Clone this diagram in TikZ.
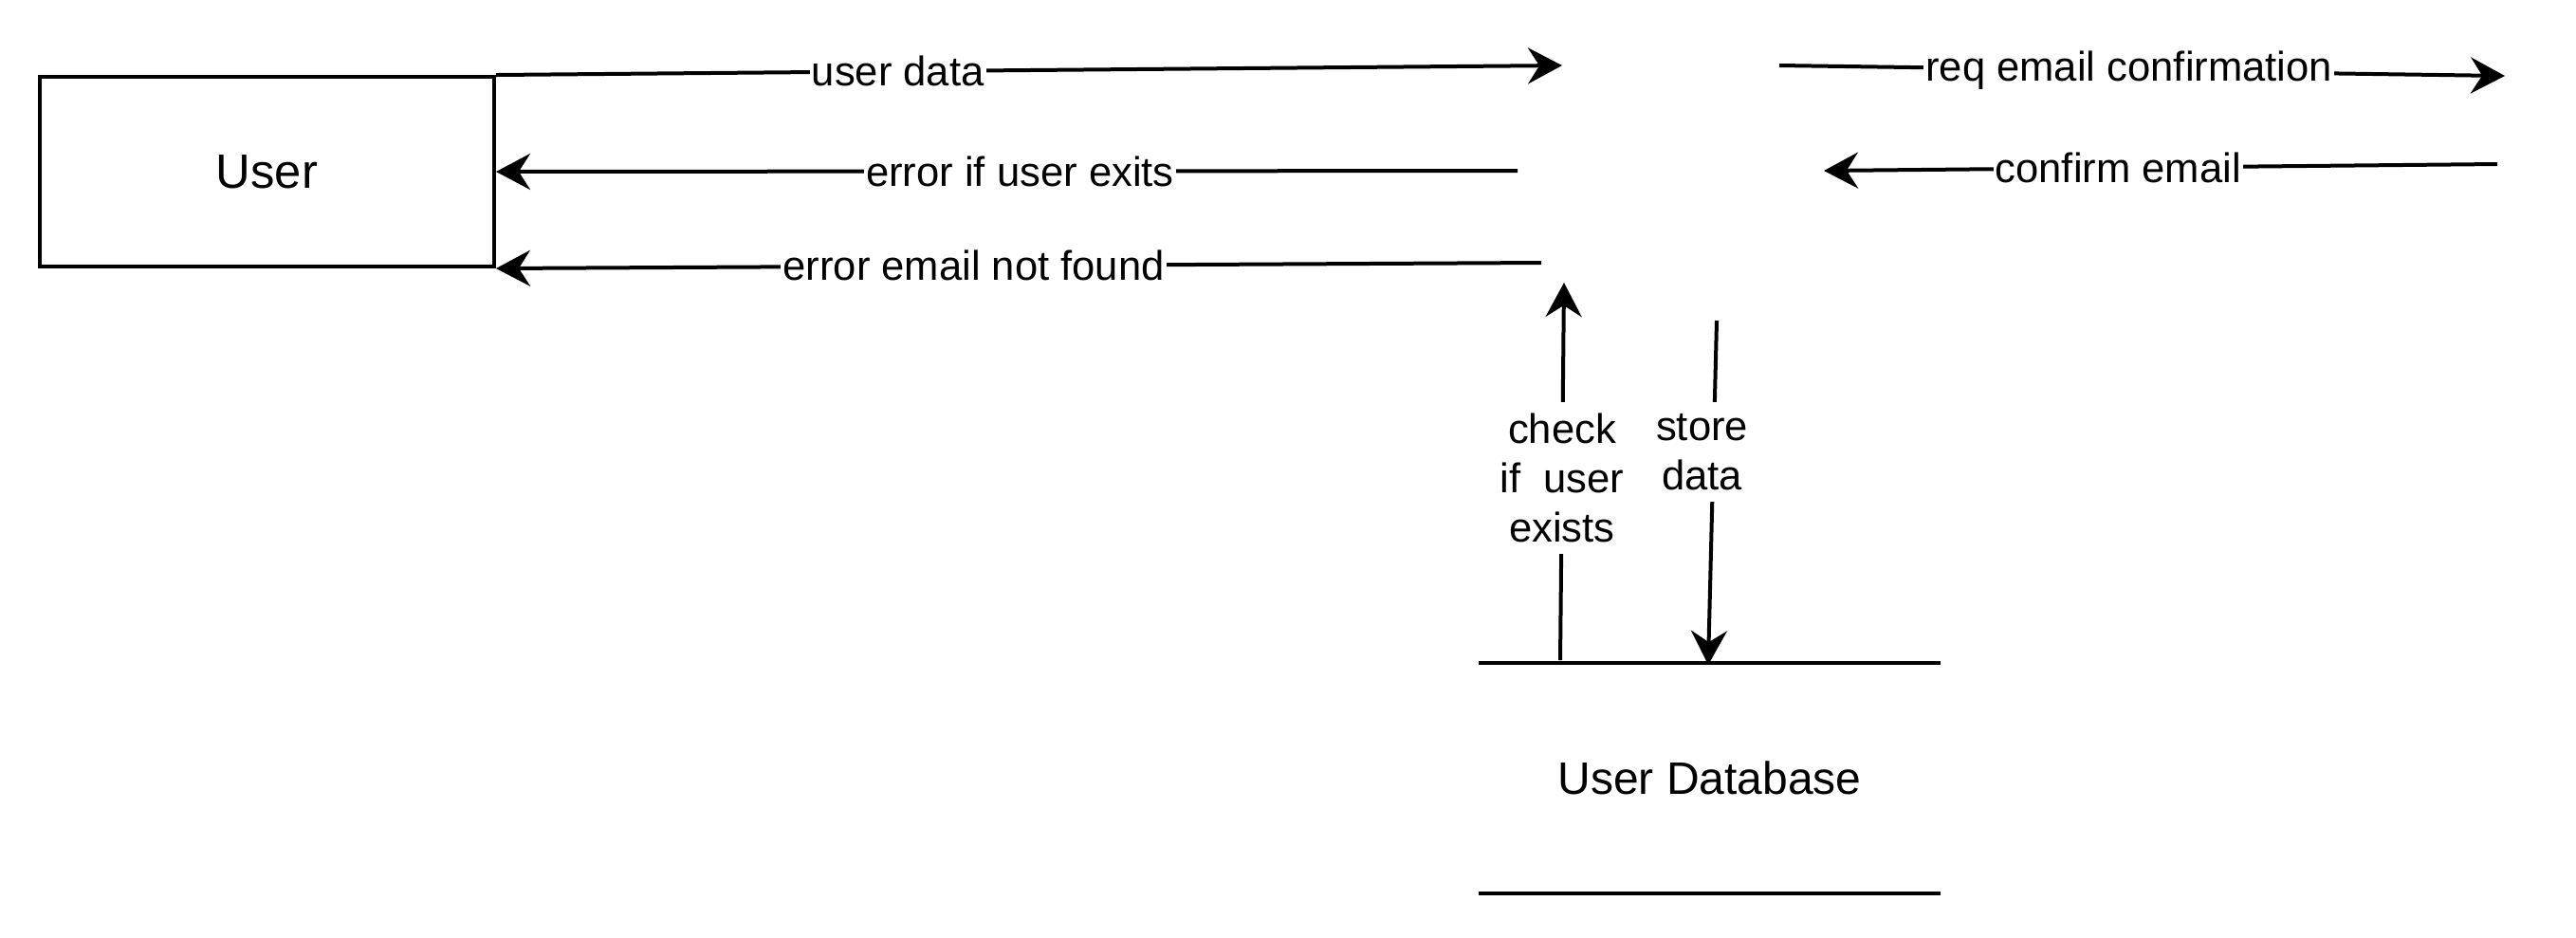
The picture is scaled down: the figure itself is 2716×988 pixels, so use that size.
\documentclass[tikz,border=0pt]{standalone}
\usepackage{fontspec}
\setmainfont{Liberation Sans}
\usetikzlibrary{arrows.meta}
\begin{document}
\begin{tikzpicture}[x=0.25pt,y=-0.25pt,line width=1pt,
        entity/.style={draw,minimum width=119.75pt,minimum height=50pt,font=\fontsize{12.7}{15}\selectfont},
        store/.style={minimum width=120.75pt,minimum height=59.75pt,font=\fontsize{12}{14.4}\selectfont},
        flow/.style={-{Stealth[length=9pt,width=9.5pt,inset=3pt]}},
        lbl/.style={fill=white,inner sep=0.5pt,align=center,font=\fontsize{10.9}{13}\selectfont}]
    \useasboundingbox (0,0) rectangle (2716,988);
    \node[entity] (user) at (281.5,181) {User};
    \node[store] (db) at (1802.5,820.5) {User Database};
    \draw (db.north west) -- (db.north east);
    \draw (db.south west) -- (db.south east);
    % free ends round the process
    \coordinate (dataIn) at (1647,69);
    \coordinate (existsOut) at (1600,180);
    \coordinate (notFoundOut) at (1625,277);
    \coordinate (reqOut) at (1876,69);
    \coordinate (reqEnd) at (2641,80);
    \coordinate (confStart) at (2633,173);
    \coordinate (confIn) at (1923,180);
    \coordinate (checkIn) at (1649,298);
    \coordinate (checkStart) at (1645,696);
    \coordinate (storeOut) at (1810,338);
    \coordinate (storeEnd) at (1801,701);
    \draw[flow] (user.north east) -- node[lbl,pos=0.377] {user data} (dataIn);
    \draw[flow] (existsOut) -- node[lbl,pos=0.487] {error if user exits} (user.east);
    \draw[flow] (notFoundOut) -- node[lbl,pos=0.543] {error email not found} (user.south east);
    \draw[flow] (reqOut) -- node[lbl,pos=0.482] {req email confirmation} (reqEnd);
    \draw[flow] (confStart) -- node[lbl,pos=0.563] {confirm email} (confIn);
    \draw[flow] (checkStart) -- node[lbl,pos=0.482,inner sep=3pt] {check\\if\ \ user\\exists} (checkIn);
    \draw[flow] (storeOut) -- node[lbl,pos=0.381,inner sep=3pt,xshift=-3pt] {store\\data} (storeEnd);
\end{tikzpicture}
\end{document}
